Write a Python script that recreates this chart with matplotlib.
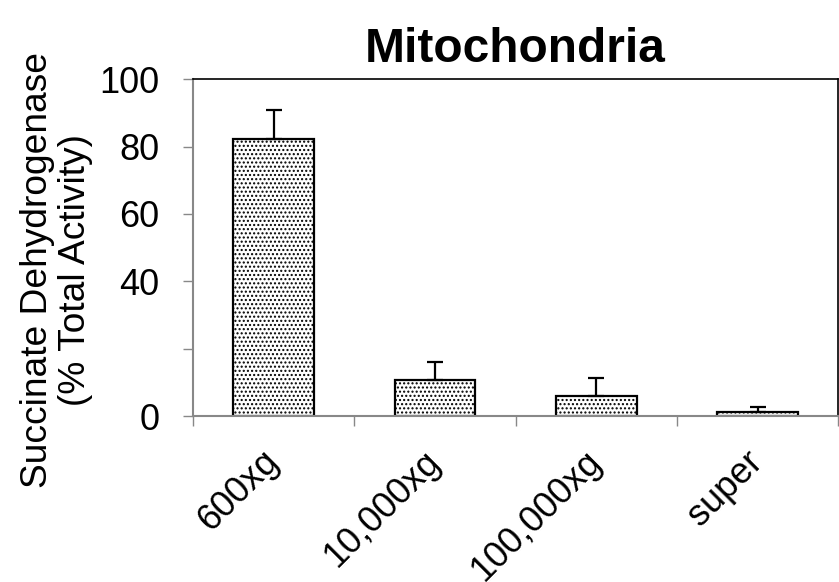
import matplotlib.pyplot as plt
import numpy as np

plt.rcParams["font.family"] = ["Liberation Sans", "DejaVu Sans"]
plt.rcParams["hatch.color"] = "#555555"
plt.rcParams["hatch.linewidth"] = 1.0

fractions = ["600xg", "10,000xg", "100,000xg", "super"]
activity = [82.2, 10.7, 5.9, 1.2]
activity_err = [8.6, 5.3, 5.4, 1.6]
y_ticks = [0, 20, 40, 60, 80, 100]
y_tick_labels = ["0", "", "40", "60", "80", "100"]

fig = plt.figure(figsize=(8.39, 5.82), dpi=100)
ax = fig.add_axes([0.230, 0.285, 0.769, 0.579])

x = np.arange(len(fractions))
ax.bar(x, activity, width=0.5, color="white", edgecolor="black",
       linewidth=1.6, hatch="....", zorder=2)
ax.errorbar(x, activity, yerr=[np.zeros(len(activity)), activity_err],
            fmt="none", ecolor="black", elinewidth=1.6, capsize=6,
            capthick=1.6, zorder=3)

ax.set_xlim(-0.5, len(fractions) - 0.5)
ax.set_ylim(0, 100)
ax.set_yticks(y_ticks)
ax.set_yticklabels(y_tick_labels, fontsize=26)
ax.tick_params(axis="y", direction="out", length=7, width=1, color="#888888", pad=17)

ax.set_xticks(x)
ax.set_xticklabels(fractions, fontsize=26, rotation=45, ha="right",
                   va="center", rotation_mode="anchor")
ax.tick_params(axis="x", which="major", length=0, pad=29)
ax.set_xticks(np.arange(-0.5, len(fractions)), minor=True)
ax.tick_params(axis="x", which="minor", direction="out", length=7, width=1,
               color="#888888")

for side in ["left", "bottom"]:
    ax.spines[side].set_color("#888888")
    ax.spines[side].set_linewidth(1.5)
for side in ["top", "right"]:
    ax.spines[side].set_color("black")
    ax.spines[side].set_linewidth(1.2)

ax.set_ylabel("Succinate Dehydrogenase\n(% Total Activity)", fontsize=26.7,
              linespacing=1.1)
ax.yaxis.set_label_coords(-0.155, 0.433)
ax.set_title("Mitochondria", fontsize=34.5, fontweight="bold", pad=12)

fig.savefig("out.png", dpi=100)
